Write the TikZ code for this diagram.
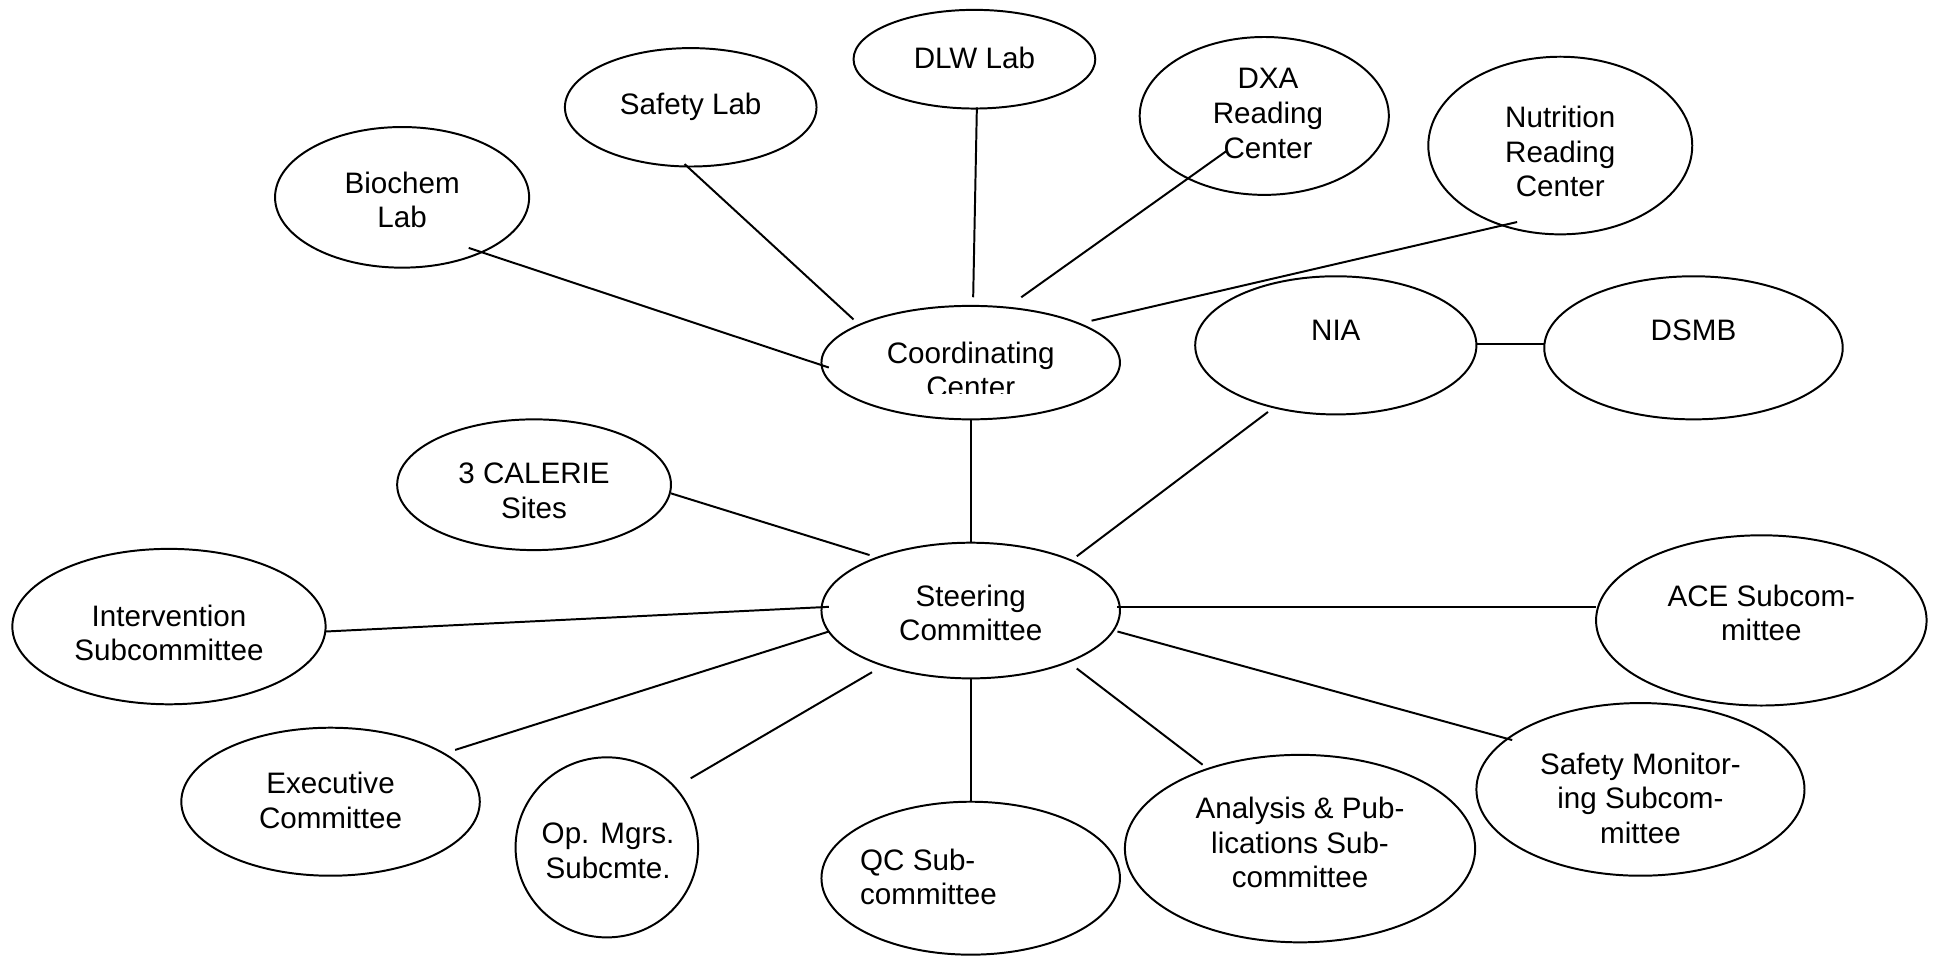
\documentclass[tikz,border=0pt]{standalone}
\usepackage{fontspec}
\setmainfont{Liberation Sans}
\usetikzlibrary{shapes.geometric}
\begin{document}
\begin{tikzpicture}[x=0.5pt,y=-0.5pt,
  ell/.style={draw, ellipse, line width=0.8pt, inner sep=0pt, outer sep=0pt},
  lbl/.style={align=center, font=\fontsize{12}{14}\selectfont, inner sep=0pt},
  conn/.style={line width=0.8pt}]
\useasboundingbox (0,0) rectangle (1568,775);

% ellipses (minimum width = rx pt, minimum height = ry pt)
\node[ell, minimum width=103pt, minimum height=57pt] (biochem) at (326,160) {};
\node[ell, minimum width=102pt, minimum height=48pt] (safety) at (560,87) {};
\node[ell, minimum width=98pt,  minimum height=40pt] (dlw) at (790,48) {};
\node[ell, minimum width=101pt, minimum height=64pt] (dxa) at (1025,94) {};
\node[ell, minimum width=107pt, minimum height=72pt] (nutr) at (1265,118) {};
\node[ell, minimum width=121pt, minimum height=46pt] (coord) at (787,294) {};
\node[ell, minimum width=114pt, minimum height=56pt] (nia) at (1083,280) {};
\node[ell, minimum width=121pt, minimum height=58pt] (dsmb) at (1373,282) {};
\node[ell, minimum width=111pt, minimum height=53pt] (calerie) at (433,393) {};
\node[ell, minimum width=121pt, minimum height=55pt] (steer) at (787,495) {};
\node[ell, minimum width=127pt, minimum height=63pt] (interv) at (137,508) {};
\node[ell, minimum width=134pt, minimum height=69pt] (ace) at (1428,503) {};
\node[ell, minimum width=121pt, minimum height=60pt] (exec) at (268,650) {};
\node[ell, minimum width=74pt,  minimum height=73pt] (opm) at (492,687) {};
\node[ell, minimum width=121pt, minimum height=62pt] (qc) at (787,712) {};
\node[ell, minimum width=142pt, minimum height=76pt] (anal) at (1054,688) {};
\node[ell, minimum width=133pt, minimum height=70pt] (safemon) at (1330,640) {};

% labels
\node[lbl] (tbiochem) at (326,162) {Biochem\\Lab};
\node[lbl] (tsafety) at (560,87) {Safety Lab};
\node[lbl] (tdlw) at (790,47) {DLW Lab};
\node[lbl] (tdxa) at (1028,92) {DXA\\Reading\\Center};
\node[lbl] (tnutr) at (1265,123) {Nutrition\\Reading\\Center};
\begin{scope}
  \clip (600,260) rectangle (950,319);
  \node[lbl] (tcoord) at (787,300) {Coordinating\\Center};
\end{scope}
\node[lbl] (tnia) at (1083,268) {NIA};
\node[lbl] (tdsmb) at (1373,268) {DSMB};
\node[lbl] (tcalerie) at (433,398) {3 CALERIE\\Sites};
\node[lbl] (tsteer) at (787,497) {Steering\\Committee};
\node[lbl] (tinterv) at (137,513) {Intervention\\Subcommittee};
\node[lbl] (tace) at (1428,497) {ACE Subcom-\\mittee};
\node[lbl] (texec) at (268,649) {Executive\\Committee};
\node[lbl] (topm) at (493,690) {Op. Mgrs.\\Subcmte.};
\node[lbl, align=left, anchor=west] (tqc) at (697,711) {QC Sub-\\committee};
\node[lbl] (tanal) at (1054,683) {Analysis \& Pub-\\lications Sub-\\committee};
\node[lbl] (tsafemon) at (1330,647) {Safety Monitor-\\ing Subcom-\\mittee};

% connectors
\draw[conn] ([shift={(54,41)}]biochem.center) -- ([shift={(-115,4)}]coord.center);
\draw[conn] ([shift={(-5,46)}]safety.center) -- ([shift={(-95,-35)}]coord.center);
\draw[conn] ([shift={(2,39)}]dlw.center) -- ([shift={(2,-53)}]coord.center);
\draw[conn] ([shift={(-30,28)}]dxa.center) -- ([shift={(41,-53)}]coord.center);
\draw[conn] ([shift={(-35,62)}]nutr.center) -- ([shift={(98,-34)}]coord.center);
\draw[conn] ([shift={(114,-1)}]nia.center) -- ([shift={(-120,-3)}]dsmb.center);
\draw[conn] (coord.south) -- (steer.north);
\draw[conn] ([shift={(-55,54)}]nia.center) -- ([shift={(86,-44)}]steer.center);
\draw[conn] ([shift={(111,7)}]calerie.center) -- ([shift={(-82,-45)}]steer.center);
\draw[conn] ([shift={(127,4)}]interv.center) -- ([shift={(-115,-3)}]steer.center);
\draw[conn] ([shift={(119,-3)}]steer.center) -- ([shift={(-134,-11)}]ace.center);
\draw[conn] ([shift={(101,-42)}]exec.center) -- ([shift={(-115,17)}]steer.center);
\draw[conn] ([shift={(68,-56)}]opm.center) -- ([shift={(-80,50)}]steer.center);
\draw[conn] (steer.south) -- (qc.north);
\draw[conn] ([shift={(-79,-68)}]anal.center) -- ([shift={(86,47)}]steer.center);
\draw[conn] ([shift={(-104,-40)}]safemon.center) -- ([shift={(119,17)}]steer.center);
\end{tikzpicture}
\end{document}
